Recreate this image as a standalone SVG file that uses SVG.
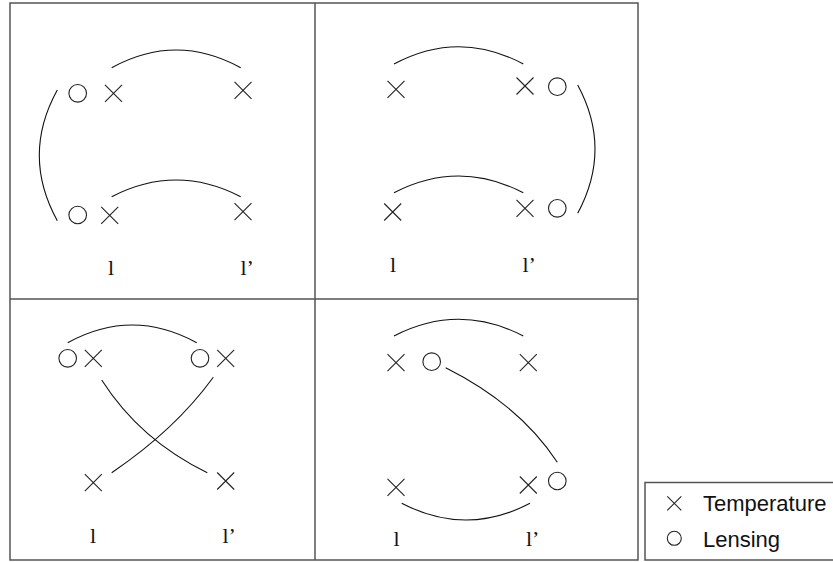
<svg xmlns="http://www.w3.org/2000/svg" xmlns:xlink="http://www.w3.org/1999/xlink" width="833" height="562" viewBox="0 0 833 562">
<style>
.frame{fill:none;stroke:#555;stroke-width:1.5}
.mk{fill:none;stroke:#222;stroke-width:1.1}
.arc{fill:none;stroke:#111;stroke-width:1.1}
.lbl{font-family:"Liberation Serif","Times New Roman",serif;font-size:22px;fill:#111}
.leg{font-family:"Liberation Sans",Arial,sans-serif;font-size:22px;fill:#111}
</style>
<defs>
<path id="x" class="mk" d="M-8.5,-8.5L8.5,8.5M-8.5,8.5L8.5,-8.5"/>
<circle id="o" class="mk" r="8.8"/>
<path id="xs" class="mk" d="M-7,-7L7,7M-7,7L7,-7"/>
<circle id="os" class="mk" r="7"/>
</defs>
<rect width="833" height="562" fill="#fff"/>
<g id="grid">
<rect class="frame" x="10" y="3" width="628" height="557"/>
<line class="frame" x1="315" y1="3" x2="315" y2="560"/>
<line class="frame" x1="10" y1="299" x2="638" y2="299"/>
</g>
<g id="connectors">
<path class="arc" d="M111.7,67.7 Q176.2,32.3 240.7,67.7"/>
<path class="arc" d="M111.7,196.7 Q176.2,163.3 240.7,196.7"/>
<path class="arc" d="M57.3,90 Q21.3,155.3 57.3,220.7"/>
<path class="arc" d="M394,64 Q458.7,29.4 523.3,64"/>
<path class="arc" d="M394,192.7 Q458.7,159.3 523.3,192.7"/>
<path class="arc" d="M577.7,85 Q612.3,149 577.7,213.3"/>
<path class="arc" d="M67.7,342.7 Q132.2,307.3 196.7,342.7"/>
<path class="arc" d="M101.7,380 Q140,440 207.3,472.7"/>
<path class="arc" d="M213.3,377.3 Q175,430 111.7,472.7"/>
<path class="arc" d="M394,336 Q458.7,302.6 523.3,336"/>
<path class="arc" d="M445.7,367.7 Q520,405 557.3,462.3"/>
<path class="arc" d="M401.7,503.3 Q465.9,536.7 530,503.3"/>
</g>
<g id="panel1">
<g id="p1-o1"><use xlink:href="#o" x="77.7" y="93.3"/></g>
<g id="p1-x1"><use xlink:href="#x" x="113.5" y="93.3"/></g>
<g id="p1-x2"><use xlink:href="#x" x="243" y="90.3"/></g>
<g id="p1-o2"><use xlink:href="#o" x="77.7" y="215"/></g>
<g id="p1-x3"><use xlink:href="#x" x="109.7" y="215.3"/></g>
<g id="p1-x4"><use xlink:href="#x" x="243" y="211.7"/></g>
<text class="lbl" x="108" y="274.5">l</text>
<text class="lbl" x="240.5" y="274.5">l’</text>
</g>
<g id="panel2">
<g id="p2-x1"><use xlink:href="#x" x="396" y="89.3"/></g>
<g id="p2-x2"><use xlink:href="#x" x="525" y="86"/></g>
<g id="p2-o1"><use xlink:href="#o" x="557.3" y="86.7"/></g>
<g id="p2-x3"><use xlink:href="#x" x="392.7" y="212"/></g>
<g id="p2-x4"><use xlink:href="#x" x="525" y="208.3"/></g>
<g id="p2-o2"><use xlink:href="#o" x="557.3" y="208.3"/></g>
<text class="lbl" x="390" y="272">l</text>
<text class="lbl" x="522.5" y="272">l’</text>
</g>
<g id="panel3">
<g id="p3-o1"><use xlink:href="#o" x="67.7" y="358.3"/></g>
<g id="p3-x1"><use xlink:href="#x" x="93.3" y="358.3"/></g>
<g id="p3-o2"><use xlink:href="#o" x="200" y="358.3"/></g>
<g id="p3-x2"><use xlink:href="#x" x="225.7" y="358.3"/></g>
<g id="p3-x3"><use xlink:href="#x" x="93.3" y="482.7"/></g>
<g id="p3-x4"><use xlink:href="#x" x="225.7" y="481"/></g>
<text class="lbl" x="90" y="543">l</text>
<text class="lbl" x="222.5" y="543">l’</text>
</g>
<g id="panel4">
<g id="p4-x1"><use xlink:href="#x" x="396" y="362.7"/></g>
<g id="p4-o1"><use xlink:href="#o" x="431.7" y="361.7"/></g>
<g id="p4-x2"><use xlink:href="#x" x="528.3" y="362.7"/></g>
<g id="p4-x3"><use xlink:href="#x" x="396" y="487.3"/></g>
<g id="p4-x4"><use xlink:href="#x" x="528.3" y="485"/></g>
<g id="p4-o2"><use xlink:href="#o" x="557.3" y="481"/></g>
<text class="lbl" x="393.5" y="546">l</text>
<text class="lbl" x="526" y="546">l’</text>
</g>
<g id="legend">
<rect class="frame" x="645" y="482.5" width="190" height="77.5"/>
<use xlink:href="#xs" x="674.3" y="503.3"/>
<use xlink:href="#os" x="674.3" y="538.3"/>
<text class="leg" x="703" y="511">Temperature</text>
<text class="leg" x="703" y="547">Lensing</text>
</g>
</svg>
